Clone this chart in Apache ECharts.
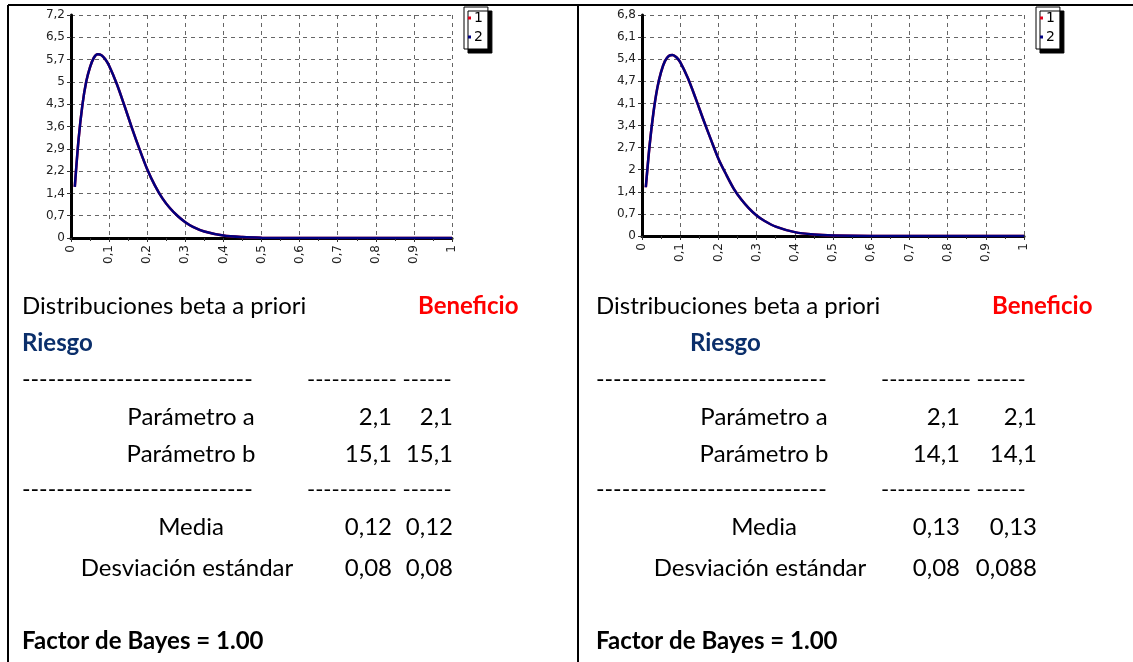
<!DOCTYPE html>
<html>
<head>
<meta charset="utf-8">
<script src="https://cdn.jsdelivr.net/npm/echarts@6/dist/echarts.min.js"></script>
<style>
  html, body { margin: 0; padding: 0; background: #fff; }
  #chart { width: 1133px; height: 662px; }
</style>
</head>
<body>
<div id="chart"></div>
<script>
// datos
var xVals = [0.01, 0.02, 0.03, 0.04, 0.05, 0.06, 0.07, 0.08, 0.09, 0.10, 0.12, 0.14, 0.16, 0.18, 0.20,
  0.22, 0.24, 0.26, 0.28, 0.30, 0.32, 0.35, 0.40, 0.45, 0.50, 0.60, 0.70, 0.80, 0.90, 1.0];
var densIzq = [1.65, 3.2, 4.3, 5.05, 5.52, 5.82, 5.93, 5.9, 5.77, 5.56, 4.98, 4.28, 3.55, 2.86, 2.22,
  1.7, 1.28, 0.96, 0.71, 0.51, 0.36, 0.21, 0.08, 0.03, 0.01, 0, 0, 0, 0, 0];
var densDer = [1.5, 2.8, 3.8, 4.55, 5.05, 5.38, 5.54, 5.57, 5.5, 5.35, 4.86, 4.25, 3.6, 2.98, 2.38,
  1.9, 1.46, 1.12, 0.85, 0.63, 0.47, 0.29, 0.12, 0.045, 0.015, 0, 0, 0, 0, 0];
var xLabels = ['0', '0,1', '0,2', '0,3', '0,4', '0,5', '0,6', '0,7', '0,8', '0,9', '1'];
var yLabelsIzq = ['0', '0,7', '1,4', '2,2', '2,9', '3,6', '4,3', '5', '5,7', '6,5', '7,2'];
var yLabelsDer = ['0', '0,7', '1,4', '2', '2,7', '3,4', '4,1', '4,7', '5,4', '6,1', '6,8'];
var serieNames = ['1', '2'];
var tablaIzq = { a: ['2,1', '2,1'], b: ['15,1', '15,1'], media: ['0,12', '0,12'], sd: ['0,08', '0,08'] };
var tablaDer = { a: ['2,1', '2,1'], b: ['14,1', '14,1'], media: ['0,13', '0,13'], sd: ['0,08', '0,088'] };

function pares(ys) {
  return xVals.map(function (x, i) { return [x, ys[i]]; });
}

var tickFont = { fontFamily: 'DejaVu Sans', fontSize: 12, color: '#222' };

function xAxisDe(grid) {
  return {
    type: 'value', gridIndex: grid, min: 0, max: 1, interval: 0.1,
    axisLine: { lineStyle: { color: '#000', width: 3 } },
    axisTick: { length: 4, lineStyle: { color: '#333' } },
    minorTick: { show: true, splitNumber: 2, length: 3, lineStyle: { color: '#333' } },
    axisLabel: Object.assign({ rotate: 90, margin: 7, formatter: function (v, i) { return xLabels[i]; } }, tickFont),
    splitLine: { show: true, lineStyle: { color: '#666', type: [4, 4], width: 1 } }
  };
}

function yAxisDe(grid, max, labels) {
  return {
    type: 'value', gridIndex: grid, min: 0, max: max, interval: max / 10,
    axisLine: { show: true, lineStyle: { color: '#000', width: 3 } },
    axisTick: { show: true, length: 4, lineStyle: { color: '#333' } },
    axisLabel: Object.assign({ margin: 6, formatter: function (v, i) { return labels[i]; } }, tickFont),
    splitLine: { show: true, lineStyle: { color: '#666', type: [4, 4], width: 1 } }
  };
}

function serie(name, grid, data, color, z) {
  return {
    name: name, type: 'line', xAxisIndex: grid, yAxisIndex: grid, data: pares(data),
    showSymbol: false, smooth: 0.3, z: z,
    lineStyle: { color: color, width: 2.5 }, itemStyle: { color: color }
  };
}

function leyenda(left) {
  return {
    data: serieNames, orient: 'vertical', left: left, top: 7,
    icon: 'rect', itemWidth: 3, itemHeight: 3, itemGap: 5,
    backgroundColor: '#fff', borderColor: '#000', borderWidth: 1, padding: [4, 5, 5, 4],
    shadowColor: '#000', shadowBlur: 0, shadowOffsetX: 4, shadowOffsetY: 4,
    textStyle: { fontFamily: 'DejaVu Sans', fontSize: 14, color: '#000', padding: [0, 0, 0, -2] },
    selectedMode: false
  };
}

var fuente = '"Lato", sans-serif';
function txt(t, x, y, opts) {
  opts = opts || {};
  return {
    type: 'text', x: x, y: y, silent: true,
    style: {
      text: t, fill: opts.color || '#000', align: opts.align || 'left', verticalAlign: 'middle',
      font: (opts.bold ? 'bold ' : '') + (opts.size || 24) + 'px ' + fuente
    }
  };
}
function raya(x1, y1, x2, y2) {
  return { type: 'line', silent: true, shape: { x1: x1, y1: y1, x2: x2, y2: y2 }, style: { stroke: '#000', lineWidth: 2 } };
}

function panelTexto(dx, riesgoX, tabla, medioX, numX) {
  var g = [];
  g.push(txt('Distribuciones beta a priori', dx + 22, 306));
  g.push(txt('Beneficio', dx + 418, 306, { bold: true, color: '#ff0000' }));
  g.push(txt('Riesgo', riesgoX, 343, { bold: true, color: '#0b2f6b' }));
  g.push(txt('---------------------------', dx + 22, 380, { size: 23 }));
  g.push(txt('----------- ------', dx + 307, 380, { size: 22 }));
  g.push(txt('Parámetro a', medioX, 417, { align: 'center' }));
  g.push(txt('Parámetro b', medioX, 454, { align: 'center' }));
  g.push(txt('---------------------------', dx + 22, 490, { size: 23 }));
  g.push(txt('----------- ------', dx + 307, 490, { size: 22 }));
  g.push(txt('Media', medioX, 527, { align: 'center' }));
  g.push(txt('Desviación estándar', medioX - 4, 568, { align: 'center' }));
  var filas = [['a', 417], ['b', 454], ['media', 527], ['sd', 568]];
  filas.forEach(function (f) {
    g.push(txt(tabla[f[0]][0], numX[0], f[1], { align: 'right' }));
    g.push(txt(tabla[f[0]][1], numX[1], f[1], { align: 'right' }));
  });
  g.push(txt('Factor de Bayes = 1.00', dx + 22, 641, { bold: true }));
  return g;
}

var graficos = [].concat(
  [raya(8, 5, 1133, 5), raya(8, 5, 8, 662), raya(578, 5, 578, 662)],
  panelTexto(0, 22, tablaIzq, 191, [392, 453]),
  panelTexto(574, 690, tablaDer, 764, [960, 1037])
);

var chart = echarts.init(document.getElementById('chart'), null, { renderer: 'canvas' });
chart.setOption({
  backgroundColor: '#fff',
  animation: false,
  grid: [
    { left: 71, top: 15, width: 381, height: 223 },
    { left: 642, top: 15, width: 382, height: 221 }
  ],
  xAxis: [xAxisDe(0), xAxisDe(1)],
  yAxis: [yAxisDe(0, 7.2, yLabelsIzq), yAxisDe(1, 6.8, yLabelsDer)],
  legend: [leyenda(464), leyenda(1036)],
  series: [
    serie(serieNames[0], 0, densIzq, '#e0001b', 2),
    serie(serieNames[1], 0, densIzq, '#000080', 3),
    serie(serieNames[0], 1, densDer, '#e0001b', 2),
    serie(serieNames[1], 1, densDer, '#000080', 3)
  ],
  graphic: graficos
});
</script>
</body>
</html>
